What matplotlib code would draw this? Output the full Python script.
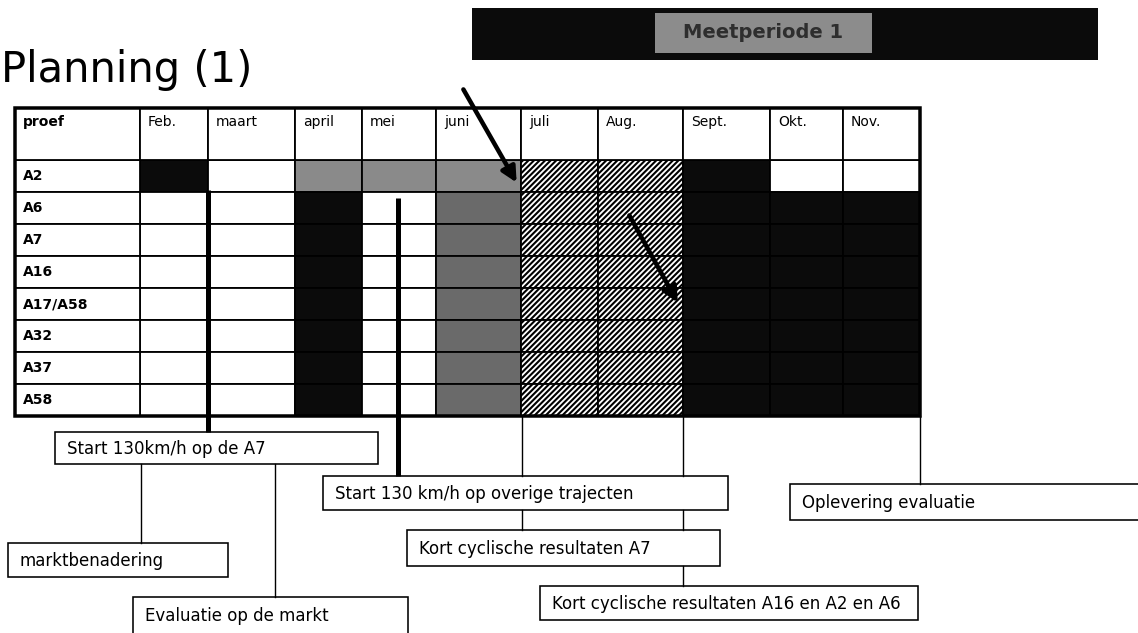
import matplotlib
matplotlib.use("Agg")
import matplotlib.pyplot as plt
from matplotlib.patches import Rectangle, FancyArrowPatch

# months in the planning table and the routes (rows)
months = ["Feb.", "maart", "april", "mei", "juni", "juli", "Aug.", "Sept.", "Okt.", "Nov."]
routes = ["A2", "A6", "A7", "A16", "A17/A58", "A32", "A37", "A58"]
# cell state per route: B = black, W = white, G = grey, D = dark grey, H = hatched
cells = {
    "A2":      ["B", "W", "G", "G", "G", "H", "H", "B", "W", "W"],
    "A6":      ["W", "W", "B", "W", "D", "H", "H", "B", "B", "B"],
    "A7":      ["W", "W", "B", "W", "D", "H", "H", "B", "B", "B"],
    "A16":     ["W", "W", "B", "W", "D", "H", "H", "B", "B", "B"],
    "A17/A58": ["W", "W", "B", "W", "D", "H", "H", "B", "B", "B"],
    "A32":     ["W", "W", "B", "W", "D", "H", "H", "B", "B", "B"],
    "A37":     ["W", "W", "B", "W", "D", "H", "H", "B", "B", "B"],
    "A58":     ["W", "W", "B", "W", "D", "H", "H", "B", "B", "B"],
}
callouts = ["Start 130km/h op de A7", "Start 130 km/h op overige trajecten",
            "Oplevering evaluatie", "marktbenadering", "Kort cyclische resultaten A7",
            "Evaluatie op de markt", "Kort cyclische resultaten A16 en A2 en A6"]

# layout (pixels)
W, H = 1138, 633
col_x = [15, 140, 208, 295, 362, 436, 521, 598, 683, 770, 843, 920]
table_top, header_h, row_h = 108, 52, 32.0
box_pos = [(55, 432, 378, 464), (323, 476, 728, 510), (790, 484, 1140, 520),
           (8, 543, 228, 577), (407, 530, 720, 566), (133, 597, 408, 640),
           (540, 586, 918, 620)]
fills = {"B": "#0b0b0b", "W": "white", "G": "#8a8a8a", "D": "#6a6a6a", "H": "white"}

def px(v):
    return v * 0.72

plt.rcParams["hatch.linewidth"] = 1.5

fig = plt.figure(figsize=(W / 100, H / 100), dpi=100)
ax = fig.add_axes([0, 0, 1, 1])
ax.set_xlim(0, W)
ax.set_ylim(H, 0)
ax.axis("off")

ax.text(1, 70, "Planning (1)", fontsize=30, va="center", ha="left", color="black")

# Meetperiode bar
ax.add_patch(Rectangle((472, 8), 626, 52, facecolor="#0b0b0b", edgecolor="none"))
ax.add_patch(Rectangle((655, 13), 217, 40, facecolor="#8c8c8c", edgecolor="none"))
ax.text(763, 33, "Meetperiode 1", fontsize=14, fontweight="bold", color="#2e2e2e",
        ha="center", va="center")

# table cells
body_top = table_top + header_h
for r, route in enumerate(routes):
    y = body_top + r * row_h
    for c, state in enumerate(cells[route]):
        x0, x1 = col_x[c + 1], col_x[c + 2]
        ax.add_patch(Rectangle((x0, y), x1 - x0, row_h, facecolor=fills[state],
                               edgecolor="black", lw=px(1.8),
                               hatch="//////" if state == "H" else None))
    ax.add_patch(Rectangle((col_x[0], y), col_x[1] - col_x[0], row_h,
                           facecolor="white", edgecolor="black", lw=px(1.8)))
    ax.text(col_x[0] + 8, y + row_h / 2, route, fontsize=10, fontweight="bold",
            va="center", ha="left")

# header row
for c in range(len(months) + 1):
    x0, x1 = col_x[c], col_x[c + 1]
    ax.add_patch(Rectangle((x0, table_top), x1 - x0, header_h, facecolor="white",
                           edgecolor="black", lw=px(1.8)))
    label = "proef" if c == 0 else months[c - 1]
    ax.text(x0 + 8, table_top + 14, label, fontsize=10,
            fontweight="bold" if c == 0 else "normal", va="center", ha="left")

# outer border
table_bottom = body_top + len(routes) * row_h
ax.add_patch(Rectangle((col_x[0], table_top), col_x[-1] - col_x[0],
                       table_bottom - table_top, facecolor="none",
                       edgecolor="black", lw=px(3.5)))

# arrows
for (xa, ya), (xb, yb) in [((462, 87), (518, 185)), ((628, 213), (679, 305))]:
    ax.add_patch(FancyArrowPatch((xa, ya), (xb, yb), arrowstyle="-|>,head_length=6,head_width=3",
                                 lw=px(4.5), color="black", mutation_scale=1.5))

# thick callout lines from table
ax.plot([208, 208], [190, 432], color="black", lw=px(5), solid_capstyle="butt")
ax.plot([398, 398], [198, 476], color="black", lw=px(5), solid_capstyle="butt")

# thin connector lines
for x, y0, y1 in [(141, 464, 543), (275, 464, 597), (522, table_bottom, 476),
                  (683, table_bottom, 476), (522, 510, 530), (683, 510, 530),
                  (683, 566, 586), (920, table_bottom, 484)]:
    ax.plot([x, x], [y0, y1], color="black", lw=px(1.4))

# callout boxes
for text, (x0, y0, x1, y1) in zip(callouts, box_pos):
    ax.add_patch(Rectangle((x0, y0), x1 - x0, y1 - y0, facecolor="white",
                           edgecolor="black", lw=px(1.6)))
    ax.text(x0 + 12, (y0 + min(y1, 633)) / 2 + 1, text, fontsize=12,
            va="center", ha="left")

fig.savefig("out.png", dpi=100)
